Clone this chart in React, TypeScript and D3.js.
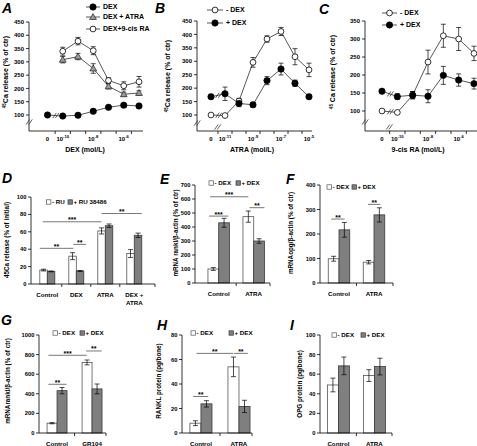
import React from "react";
import * as d3 from "d3";

const FONT = "'Liberation Sans', Arial, sans-serif";

// ---------- Panel A ----------
const aTickIdx = [0, 1, 3, 5];
const aTickExp = ["", "-10", "-8", "-6"];
const aYTicks = [100, 150, 200, 250, 300, 350, 400, 450];
const aDex = [100, 96, 99, 114, 129, 137, 134];
const aDexErr = [3, 3, 3, 4, 4, 5, 5];
const aDexAtra = [null, 308, 320, 275, 208, 178, 183];
const aDexAtraErr = [0, 12, 12, 18, 10, 8, 8];
const aDex9cis = [null, 340, 378, 342, 230, 210, 225];
const aDex9cisErr = [0, 15, 14, 15, 10, 15, 20];
const aLegend = ["DEX", "DEX + ATRA", "DEX+9-cis RA"];

// ---------- Panel B ----------
const bTickIdx = [0, 1, 3, 5, 7];
const bTickExp = ["", "-11", "-9", "-7", "-5"];
const bYTicks = [100, 150, 200, 250, 300, 350, 400, 450];
const bMinus = [100, 98, 152, 296, 383, 411, 317, 268];
const bMinusErr = [0, 0, 10, 18, 12, 15, 30, 25];
const bPlus = [168, 179, 143, 138, 228, 271, 218, 168];
const bPlusErr = [5, 25, 12, 8, 15, 22, 12, 5];
const bLegend = ["- DEX", "+ DEX"];

// ---------- Panel C ----------
const cTickIdx = [0, 1, 3, 5];
const cTickExp = ["", "-10", "-8", "-6"];
const cYTicks = [100, 150, 200, 250, 300, 350];
const cMinus = [100, 96, 144, 236, 309, 300, 260];
const cMinusErr = [0, 0, 10, 33, 32, 32, 20];
const cPlus = [155, 140, 144, 141, 199, 186, 176];
const cPlusErr = [0, 8, 10, 18, 25, 17, 15];
const cLegend = ["- DEX", "+ DEX"];

// ---------- Panel D ----------
const dGroups = ["Control", "DEX", "ATRA", "DEX +\nATRA"];
const dMinusRU = [16, 32, 61, 35];
const dMinusRUErr = [1, 4, 3.5, 4.5];
const dPlusRU = [14.5, 15, 67, 56];
const dPlusRUErr = [0.5, 0.6, 2, 2.5];
const dYTicks = [0, 20, 40, 60, 80, 100];
const dLegend = ["- RU", "+ RU 38486"];
const dSig = [
  { g1: 0, f1: 0.0, g2: 1, f2: 0.3, v: 41, label: "**" },
  { g1: 1, f1: 0.3, g2: 1, f2: 1.15, v: 45.5, label: "**" },
  { g1: 0, f1: 0.2, g2: 2, f2: 0.25, v: 71.5, label: "***" },
  { g1: 2, f1: 0.25, g2: 3, f2: 1.0, v: 81, label: "**" },
];

// ---------- Panel E ----------
const eGroups = ["Control", "ATRA"];
const eMinus = [100, 474];
const eMinusErr = [10, 40];
const ePlus = [430, 300];
const ePlusErr = [32, 16];
const eYTicks = [0, 100, 200, 300, 400, 500, 600, 700];
const eSig = [
  { g1: 0, f1: 0.1, g2: 1, f2: 0.25, v: 616, label: "***" },
  { g1: 0, f1: 0.05, g2: 0, f2: 0.95, v: 478, label: "***" },
  { g1: 1, f1: 0.3, g2: 1, f2: 1.0, v: 538, label: "**" },
];

// ---------- Panel F ----------
const fGroups = ["Control", "ATRA"];
const fMinus = [99, 85];
const fMinusErr = [10, 7];
const fPlus = [217, 278];
const fPlusErr = [30, 29];
const fYTicks = [0, 100, 200, 300, 400];
const fSig = [
  { g1: 0, f1: 0.14, g2: 0, f2: 0.76, v: 261, label: "**" },
  { g1: 1, f1: 0.22, g2: 1, f2: 0.8, v: 321, label: "**" },
];

// ---------- Panel G ----------
const gGroups = ["Control", "GR104"];
const gMinus = [100, 720];
const gMinusErr = [6, 25];
const gPlus = [432, 450];
const gPlusErr = [32, 50];
const gYTicks = [0, 200, 400, 600, 800, 1000];
const gSig = [
  { g1: 0, f1: 0.07, g2: 0, f2: 0.98, v: 497, label: "**" },
  { g1: 0, f1: 0.07, g2: 1, f2: 0.23, v: 793, label: "***" },
  { g1: 1, f1: 0.2, g2: 1, f2: 0.98, v: 837, label: "**" },
];

// ---------- Panel H ----------
const hGroups = ["Control", "ATRA"];
const hMinus = [8, 54];
const hMinusErr = [2, 8];
const hPlus = [23.8, 21.7];
const hPlusErr = [2.6, 5];
const hYTicks = [0, 20, 40, 60, 80];
const hSig = [
  { g1: 0, f1: 0.15, g2: 0, f2: 0.83, v: 29.8, label: "**" },
  { g1: 0, f1: 0.3, g2: 1, f2: 0.23, v: 65, label: "**" },
  { g1: 1, f1: 0.27, g2: 1, f2: 0.9, v: 65, label: "**" },
];

// ---------- Panel I ----------
const iGroups = ["Control", "ATRA"];
const iMinus = [49, 58.6];
const iMinusErr = [7, 6];
const iPlus = [68.5, 67.8];
const iPlusErr = [9, 8.5];
const iYTicks = [0, 20, 40, 60, 80, 100];

const dexLegend = ["- DEX", "+ DEX"];

type Marker = "filled" | "open" | "tri";

function MarkerShape({ x, y, kind }: { x: number; y: number; kind: Marker }) {
  if (kind === "filled") return <circle cx={x} cy={y} r={3.2} fill="#000" stroke="#000" strokeWidth={0.6} />;
  if (kind === "open") return <circle cx={x} cy={y} r={2.9} fill="#fff" stroke="#000" strokeWidth={0.8} />;
  const p = d3.symbol().type(d3.symbolTriangle).size(20)() as string;
  return <path d={p} transform={`translate(${x},${y + 0.5})`} fill="#9a9a9a" stroke="#222" strokeWidth={0.7} />;
}

function Slashes({ x, y }: { x: number; y: number }) {
  return (
    <g stroke="#222" strokeWidth={0.7}>
      <line x1={x - 3.4} y1={y + 2.6} x2={x + 0.2} y2={y - 2.6} />
      <line x1={x - 0.8} y1={y + 2.6} x2={x + 2.8} y2={y - 2.6} />
    </g>
  );
}

function Sup({ base, exp }: { base: string; exp: string }) {
  if (!exp) return <>{base}</>;
  return (
    <>
      {base}
      <tspan fontSize={4.2} dy={-2.6}>{exp}</tspan>
    </>
  );
}

interface LineSeries { vals: (number | null)[]; errs: number[]; marker: Marker }
interface LineCfg {
  axisX: number; xEnd: number; yTop: number; axisY: number;
  n: number; xFirst: number; xLast: number;
  yDomain: [number, number]; yRange: [number, number]; yTicks: number[];
  tickIdx: number[]; tickExp: string[];
  series: LineSeries[]; legend: string[];
  legX1: number; legX2: number; legTx: number; legY: number[];
  xTitle: string; xTitleX: number; yTitleX: number; yTitleY: number; yTitleSpace: boolean;
  letter: string; letterX: number; letterY: number;
  yBreak: number; xBreak: boolean;
}

function LineChart({ c }: { c: LineCfg }) {
  const x = d3.scaleLinear().domain([0, c.n - 1]).range([c.xFirst, c.xLast]);
  const y = d3.scaleLinear().domain(c.yDomain).range(c.yRange);
  const line = d3
    .line<[number, number | null]>()
    .defined((d) => d[1] != null)
    .x((d) => x(d[0]))
    .y((d) => y(d[1] as number));
  const xTicks = d3.range(0, c.n).map((i) => i + 0.5).filter((t) => x(t) < c.xEnd);
  return (
    <g fontFamily={FONT} fontWeight="bold">
      <text x={c.letterX} y={c.letterY} fontSize={14} fontStyle="italic" fontWeight="bold">{c.letter}</text>
      <line x1={c.axisX} y1={c.yTop} x2={c.axisX} y2={c.axisY} stroke="#000" strokeWidth={0.8} />
      <line x1={c.axisX} y1={c.axisY} x2={c.xEnd} y2={c.axisY} stroke="#000" strokeWidth={0.8} />
      {c.yTicks.map((t) => (
        <g key={t}>
          <line x1={c.axisX - 3} x2={c.axisX} y1={y(t)} y2={y(t)} stroke="#000" strokeWidth={0.8} />
          <text x={c.axisX - 5} y={y(t)} dy="0.35em" textAnchor="end" fontSize={6}>{t}</text>
        </g>
      ))}
      {xTicks.map((t) => (
        <line key={t} x1={x(t)} x2={x(t)} y1={c.axisY} y2={c.axisY + 3} stroke="#000" strokeWidth={0.8} />
      ))}
      {c.tickIdx.map((ti, k) => (
        <text key={ti} x={x(ti)} y={c.axisY + 9.5} textAnchor="middle" fontSize={6}>
          <Sup base={k === 0 ? "0" : "10"} exp={c.tickExp[k]} />
        </text>
      ))}
      <Slashes x={c.axisX + 0.5} y={c.yBreak} />
      {c.xBreak && <Slashes x={x(0.5)} y={c.axisY - 4} />}
      <text x={c.xTitleX} y={c.axisY + 21} textAnchor="middle" fontSize={7}>{c.xTitle}</text>
      <text transform={`translate(${c.yTitleX},${c.yTitleY}) rotate(-90)`} textAnchor="middle" fontSize={7}>
        <tspan fontSize={4.5} dy={-2.5}>45</tspan>
        <tspan dy={2.5}>{c.yTitleSpace ? " Ca release (% of ctr)" : "Ca release (% of ctr)"}</tspan>
      </text>
      {c.series.map((s, si) => (
        <path key={si} d={line(s.vals.map((v, i) => [i, v]))!} fill="none" stroke="#444" strokeWidth={0.9} />
      ))}
      {c.series.map((s, si) =>
        s.vals[0] != null && s.vals[1] != null ? (
          <Slashes key={"b" + si} x={x(0.5) + 1} y={(y(s.vals[0] as number) + y(s.vals[1] as number)) / 2} />
        ) : null
      )}
      {c.series.map((s, si) =>
        s.vals.map((v, i) =>
          v != null && s.errs[i] > 0 ? (
            <g key={`e${si}-${i}`} stroke="#000" strokeWidth={0.7}>
              <line x1={x(i)} x2={x(i)} y1={y(v - s.errs[i])} y2={y(v + s.errs[i])} />
              <line x1={x(i) - 2.5} x2={x(i) + 2.5} y1={y(v - s.errs[i])} y2={y(v - s.errs[i])} />
              <line x1={x(i) - 2.5} x2={x(i) + 2.5} y1={y(v + s.errs[i])} y2={y(v + s.errs[i])} />
            </g>
          ) : null
        )
      )}
      {c.series.map((s, si) =>
        s.vals.map((v, i) => (v != null ? <MarkerShape key={`m${si}-${i}`} x={x(i)} y={y(v)} kind={s.marker} /> : null))
      )}
      {c.legend.map((l, k) => (
        <g key={l}>
          <line x1={c.legX1} x2={c.legX2} y1={c.legY[k]} y2={c.legY[k]} stroke="#444" strokeWidth={0.9} />
          <MarkerShape x={(c.legX1 + c.legX2) / 2} y={c.legY[k]} kind={c.series[k].marker} />
          <text x={c.legTx} y={c.legY[k]} dy="0.35em" fontSize={7}>{l}</text>
        </g>
      ))}
    </g>
  );
}

interface Sig { g1: number; f1: number; g2: number; f2: number; v: number; label: string }
interface BarCfg {
  x0: number; x1: number; pi: number; po: number; align: number;
  yDomain: [number, number]; yRange: [number, number]; yTicks: number[];
  groups: string[]; white: number[]; whiteErr: number[]; gray: number[]; grayErr: number[];
  sig: Sig[]; legend: string[]; legSq: [number, number]; legTx: [number, number]; legY: number;
  yTitle: string; yTitleX: number; yTitleY: number;
  letter: string; letterX: number; letterY: number;
}

function BarChart({ c }: { c: BarCfg }) {
  const idx = c.groups.map((_, i) => i);
  const x = d3.scaleBand<number>().domain(idx).range([c.x0, c.x1]).paddingInner(c.pi).paddingOuter(c.po).align(c.align);
  const bw = x.bandwidth();
  const half = bw / 2;
  const y = d3.scaleLinear().domain(c.yDomain).range(c.yRange);
  const y0 = c.yRange[0];
  const bounds = idx.slice(0, -1).map((i) => ((x(i) as number) + bw + (x(i + 1) as number)) / 2);
  bounds.push(c.x1);
  const err = (cx: number, v: number, e: number, key: string) => (
    <g key={key} stroke="#000" strokeWidth={0.7}>
      <line x1={cx} x2={cx} y1={y(v - e)} y2={y(v + e)} />
      <line x1={cx - 2.5} x2={cx + 2.5} y1={y(v - e)} y2={y(v - e)} />
      <line x1={cx - 2.5} x2={cx + 2.5} y1={y(v + e)} y2={y(v + e)} />
    </g>
  );
  return (
    <g fontFamily={FONT} fontWeight="bold">
      <text x={c.letterX} y={c.letterY} fontSize={14} fontStyle="italic" fontWeight="bold">{c.letter}</text>
      {idx.map((i) => (
        <g key={"bar" + i}>
          <rect x={x(i)} y={y(c.white[i])} width={half} height={y0 - y(c.white[i])} fill="#fff" stroke="#555" strokeWidth={0.8} />
          <rect x={(x(i) as number) + half} y={y(c.gray[i])} width={half} height={y0 - y(c.gray[i])} fill="#7f7f7f" stroke="#3a3a3a" strokeWidth={0.8} />
        </g>
      ))}
      {idx.map((i) => err((x(i) as number) + half / 2, c.white[i], c.whiteErr[i], "ew" + i))}
      {idx.map((i) => err((x(i) as number) + half * 1.5, c.gray[i], c.grayErr[i], "eg" + i))}
      <line x1={c.x0} y1={c.yRange[1]} x2={c.x0} y2={y0} stroke="#000" strokeWidth={0.8} />
      <line x1={c.x0} y1={y0} x2={c.x1} y2={y0} stroke="#000" strokeWidth={0.8} />
      {bounds.map((b, k) => (
        <line key={"xt" + k} x1={b} x2={b} y1={y0} y2={y0 + 3} stroke="#000" strokeWidth={0.8} />
      ))}
      {c.yTicks.map((t) => (
        <g key={t}>
          <line x1={c.x0 - 3} x2={c.x0} y1={y(t)} y2={y(t)} stroke="#000" strokeWidth={0.8} />
          <text x={c.x0 - 4.5} y={y(t)} dy="0.35em" textAnchor="end" fontSize={5.8}>{t}</text>
        </g>
      ))}
      {idx.map((i) =>
        c.groups[i].split("\n").map((ln, k) => (
          <text key={`gl${i}-${k}`} x={(x(i) as number) + bw / 2} y={y0 + 13 + k * 7.5} textAnchor="middle" fontSize={6.2}>{ln}</text>
        ))
      )}
      {c.sig.map((s, k) => {
        const xa = (x(s.g1) as number) + s.f1 * bw;
        const xb = (x(s.g2) as number) + s.f2 * bw;
        return (
          <g key={"sig" + k}>
            <line x1={xa} x2={xb} y1={y(s.v)} y2={y(s.v)} stroke="#555" strokeWidth={0.8} />
            <text x={(xa + xb) / 2} y={y(s.v) + 0.5} textAnchor="middle" fontSize={7}>{s.label}</text>
          </g>
        );
      })}
      <rect x={c.legSq[0]} y={c.legY - 2.2} width={4.4} height={4.4} fill="#fff" stroke="#555" strokeWidth={0.7} />
      <text x={c.legTx[0]} y={c.legY} dy="0.35em" fontSize={6.2}>{c.legend[0]}</text>
      <rect x={c.legSq[1]} y={c.legY - 2.2} width={4.4} height={4.4} fill="#7f7f7f" stroke="#3a3a3a" strokeWidth={0.7} />
      <text x={c.legTx[1]} y={c.legY} dy="0.35em" fontSize={6.2}>{c.legend[1]}</text>
      <text transform={`translate(${c.yTitleX},${c.yTitleY}) rotate(-90)`} textAnchor="middle" fontSize={6.3}>{c.yTitle}</text>
    </g>
  );
}

export default function App() {
  const A: LineCfg = {
    axisX: 29, xEnd: 143, yTop: 22, axisY: 131, n: 7, xFirst: 47.5, xLast: 139,
    yDomain: [100, 450], yRange: [115, 22], yTicks: aYTicks, tickIdx: aTickIdx, tickExp: aTickExp,
    series: [
      { vals: aDex, errs: aDexErr, marker: "filled" },
      { vals: aDexAtra, errs: aDexAtraErr, marker: "tri" },
      { vals: aDex9cis, errs: aDex9cisErr, marker: "open" },
    ],
    legend: aLegend, legX1: 86, legX2: 100, legTx: 103, legY: [7, 17, 29],
    xTitle: "DEX (mol/L)", xTitleX: 85, yTitleX: 8, yTitleY: 72, yTitleSpace: false,
    letter: "A", letterX: 2, letterY: 13, yBreak: 122, xBreak: false,
  };
  const B: LineCfg = {
    axisX: 197, xEnd: 312, yTop: 21, axisY: 131, n: 8, xFirst: 211, xLast: 309,
    yDomain: [100, 450], yRange: [115, 21], yTicks: bYTicks, tickIdx: bTickIdx, tickExp: bTickExp,
    series: [
      { vals: bMinus, errs: bMinusErr, marker: "open" },
      { vals: bPlus, errs: bPlusErr, marker: "filled" },
    ],
    legend: bLegend, legX1: 207, legX2: 223, legTx: 226, legY: [10, 23],
    xTitle: "ATRA (mol/L)", xTitleX: 252, yTitleX: 170, yTitleY: 76, yTitleSpace: false,
    letter: "B", letterX: 155, letterY: 13, yBreak: 123, xBreak: true,
  };
  const C: LineCfg = {
    axisX: 365, xEnd: 477, yTop: 21, axisY: 131, n: 7, xFirst: 382, xLast: 474,
    yDomain: [100, 350], yRange: [111, 21], yTicks: cYTicks, tickIdx: cTickIdx, tickExp: cTickExp,
    series: [
      { vals: cMinus, errs: cMinusErr, marker: "open" },
      { vals: cPlus, errs: cPlusErr, marker: "filled" },
    ],
    legend: cLegend, legX1: 382, legX2: 397, legTx: 400, legY: [13, 25],
    xTitle: "9-cis RA (mol/L)", xTitleX: 418, yTitleX: 335, yTitleY: 72, yTitleSpace: true,
    letter: "C", letterX: 319, letterY: 14, yBreak: 122, xBreak: true,
  };
  const D: BarCfg = {
    x0: 31, x1: 155, pi: 0.483, po: 0.38, align: 0.4,
    yDomain: [0, 100], yRange: [284, 197], yTicks: dYTicks, groups: dGroups,
    white: dMinusRU, whiteErr: dMinusRUErr, gray: dPlusRU, grayErr: dPlusRUErr, sig: dSig,
    legend: dLegend, legSq: [46.5, 68], legTx: [52, 73.5], legY: 202,
    yTitle: "45Ca release (% of initial)", yTitleX: 9, yTitleY: 240,
    letter: "D", letterX: 2, letterY: 183,
  };
  const E: BarCfg = {
    x0: 195, x1: 270, pi: 0.386, po: 0.264, align: 0.7,
    yDomain: [0, 700], yRange: [283, 185], yTicks: eYTicks, groups: eGroups,
    white: eMinus, whiteErr: eMinusErr, gray: ePlus, grayErr: ePlusErr, sig: eSig,
    legend: dexLegend, legSq: [209, 236], legTx: [214.5, 241.5], legY: 183,
    yTitle: "mRNA rankl/β-actin (% of ctr)", yTitleX: 178, yTitleY: 233,
    letter: "E", letterX: 160, letterY: 184,
  };
  const F: BarCfg = {
    x0: 320, x1: 393, pi: 0.386, po: 0.236, align: 0.5,
    yDomain: [0, 400], yRange: [283, 185], yTicks: fYTicks, groups: fGroups,
    white: fMinus, whiteErr: fMinusErr, gray: fPlus, grayErr: fPlusErr, sig: fSig,
    legend: dexLegend, legSq: [327, 352], legTx: [332.5, 357.5], legY: 187,
    yTitle: "mRNAopg/β-actin (% of ctr)", yTitleX: 293, yTitleY: 233,
    letter: "F", letterX: 286, letterY: 184,
  };
  const G: BarCfg = {
    x0: 39, x1: 106, pi: 0.43, po: 0.172, align: 0.67,
    yDomain: [0, 1000], yRange: [433, 335], yTicks: gYTicks, groups: gGroups,
    white: gMinus, whiteErr: gMinusErr, gray: gPlus, grayErr: gPlusErr, sig: gSig,
    legend: dexLegend, legSq: [53, 80], legTx: [58.5, 85.5], legY: 333,
    yTitle: "mRNArankl/β-actin (% of ctr)", yTitleX: 10, yTitleY: 381,
    letter: "G", letterX: 1, letterY: 325,
  };
  const H: BarCfg = {
    x0: 182, x1: 252, pi: 0.42, po: 0.13, align: 0.8,
    yDomain: [0, 80], yRange: [433, 335], yTicks: hYTicks, groups: hGroups,
    white: hMinus, whiteErr: hMinusErr, gray: hPlus, grayErr: hPlusErr, sig: hSig,
    legend: dexLegend, legSq: [191, 229], legTx: [196.5, 234.5], legY: 333,
    yTitle: "RANKL protein (pg/bone)", yTitleX: 161, yTitleY: 381,
    letter: "H", letterX: 157, letterY: 330,
  };
  const I: BarCfg = {
    x0: 320, x1: 392, pi: 0.39, po: 0.195, align: 0.53,
    yDomain: [0, 100], yRange: [433, 335], yTicks: iYTicks, groups: iGroups,
    white: iMinus, whiteErr: iMinusErr, gray: iPlus, grayErr: iPlusErr, sig: [],
    legend: dexLegend, legSq: [332, 361], legTx: [337.5, 366.5], legY: 335,
    yTitle: "OPG protein (pg/bone)", yTitleX: 302, yTitleY: 384,
    letter: "I", letterX: 290, letterY: 330,
  };
  return (
    <svg width={477} height={446} style={{ position: "absolute", left: 0, top: 0, background: "#fff" }}>
      <rect width={477} height={446} fill="#fff" />
      <LineChart c={A} />
      <LineChart c={B} />
      <LineChart c={C} />
      <BarChart c={D} />
      <BarChart c={E} />
      <BarChart c={F} />
      <BarChart c={G} />
      <BarChart c={H} />
      <BarChart c={I} />
    </svg>
  );
}
